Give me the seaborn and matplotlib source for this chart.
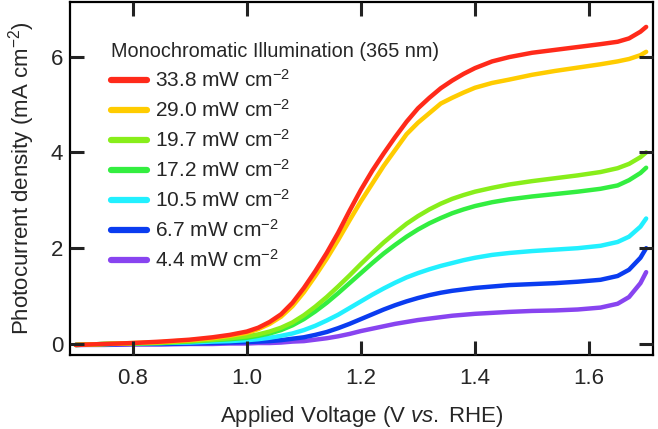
import numpy as np
import pandas as pd
import matplotlib
matplotlib.use("Agg")
import matplotlib.pyplot as plt
from matplotlib.lines import Line2D
import seaborn as sns

voltage = [0.70, 0.75, 0.80, 0.85, 0.90, 0.94, 0.97, 1.00,
           1.02, 1.04, 1.06, 1.08, 1.10, 1.12, 1.14, 1.16, 1.18, 1.20,
           1.22, 1.24, 1.26, 1.28, 1.30, 1.32, 1.34, 1.36, 1.38, 1.40,
           1.43, 1.46, 1.50, 1.54, 1.58, 1.62, 1.65, 1.67, 1.69, 1.70]

j_338 = [-0.02, 0.00, 0.02, 0.05, 0.09, 0.14, 0.19, 0.26,
         0.34, 0.46, 0.62, 0.86, 1.17, 1.52, 1.90, 2.32, 2.78, 3.22,
         3.62, 3.98, 4.32, 4.64, 4.92, 5.14, 5.34, 5.50, 5.64, 5.76,
         5.90, 5.99, 6.08, 6.14, 6.20, 6.26, 6.31, 6.38, 6.52, 6.62]
j_290 = [-0.02, 0.00, 0.02, 0.04, 0.08, 0.12, 0.17, 0.23,
         0.31, 0.42, 0.57, 0.79, 1.08, 1.42, 1.78, 2.17, 2.58, 2.98,
         3.35, 3.72, 4.05, 4.38, 4.62, 4.82, 5.02, 5.14, 5.25, 5.35,
         5.45, 5.52, 5.62, 5.70, 5.77, 5.84, 5.90, 5.95, 6.03, 6.10]
j_197 = [-0.02, 0.00, 0.01, 0.03, 0.06, 0.09, 0.12, 0.16,
         0.20, 0.26, 0.34, 0.45, 0.60, 0.78, 0.98, 1.20, 1.43, 1.67,
         1.90, 2.12, 2.32, 2.51, 2.67, 2.81, 2.93, 3.03, 3.11, 3.18,
         3.26, 3.33, 3.40, 3.46, 3.52, 3.59, 3.67, 3.76, 3.90, 4.00]
j_172 = [-0.02, 0.00, 0.01, 0.02, 0.05, 0.08, 0.10, 0.13,
         0.17, 0.22, 0.29, 0.39, 0.52, 0.68, 0.86, 1.06, 1.27, 1.48,
         1.69, 1.89, 2.07, 2.24, 2.39, 2.52, 2.63, 2.73, 2.81, 2.88,
         2.96, 3.02, 3.08, 3.13, 3.18, 3.24, 3.31, 3.42, 3.57, 3.68]
j_105 = [-0.02, 0.00, 0.01, 0.02, 0.03, 0.05, 0.06, 0.08,
         0.10, 0.13, 0.17, 0.22, 0.29, 0.38, 0.49, 0.61, 0.75, 0.89,
         1.03, 1.16, 1.28, 1.39, 1.48, 1.56, 1.63, 1.69, 1.75, 1.80,
         1.86, 1.90, 1.94, 1.97, 2.00, 2.05, 2.13, 2.24, 2.45, 2.62]
j_67 = [-0.02, -0.01, 0.00, 0.00, 0.01, 0.02, 0.03, 0.04,
        0.05, 0.06, 0.08, 0.11, 0.14, 0.19, 0.25, 0.33, 0.42, 0.52,
        0.62, 0.72, 0.81, 0.89, 0.96, 1.02, 1.07, 1.11, 1.14, 1.17,
        1.20, 1.23, 1.25, 1.27, 1.30, 1.34, 1.42, 1.55, 1.80, 2.00]
j_44 = [-0.02, -0.02, -0.01, -0.01, 0.00, 0.00, 0.01, 0.01,
        0.02, 0.02, 0.03, 0.05, 0.06, 0.09, 0.12, 0.16, 0.21, 0.27,
        0.32, 0.37, 0.42, 0.46, 0.50, 0.53, 0.56, 0.59, 0.61, 0.63,
        0.65, 0.67, 0.69, 0.70, 0.72, 0.76, 0.84, 0.98, 1.27, 1.50]

labels = ["33.8 mW cm$^{-2}$", "29.0 mW cm$^{-2}$", "19.7 mW cm$^{-2}$", "17.2 mW cm$^{-2}$",
          "10.5 mW cm$^{-2}$", "6.7 mW cm$^{-2}$", "4.4 mW cm$^{-2}$"]
series = [j_338, j_290, j_197, j_172, j_105, j_67, j_44]
colors = ["#FF2A1A", "#FFCC00", "#88EE1A", "#33EE40", "#22F0FF", "#0A3CF0", "#8844F0"]

x_ticks = [0.8, 1.0, 1.2, 1.4, 1.6]
y_ticks = [0, 2, 4, 6]

for s in series:
    assert len(s) == len(voltage)

rows = []
for lab, vals in zip(labels, series):
    for v, j in zip(voltage, vals):
        rows.append({"V": v, "J": j, "series": lab})
df = pd.DataFrame(rows)

sns.set_style("ticks")
plt.rcParams["font.family"] = ["Liberation Sans", "DejaVu Sans"]
plt.rcParams["mathtext.fontset"] = "custom"
plt.rcParams["mathtext.rm"] = "Liberation Sans"
plt.rcParams["mathtext.it"] = "Liberation Sans:italic"
plt.rcParams["axes.axisbelow"] = False

fig = plt.figure(figsize=(6.58, 4.29), dpi=100)
ax = fig.add_axes([70 / 658, 74 / 429, 583 / 658, 353 / 429])

draw_order = labels[::-1]
palette = dict(zip(labels, colors))
sns.lineplot(data=df, x="V", y="J", hue="series", hue_order=draw_order, palette=palette,
             linewidth=3.2, ax=ax, legend=False, sort=True)
for ln in ax.get_lines():
    ln.set_solid_capstyle("round")
    ln.set_solid_joinstyle("round")

ax.set_xlim(0.69, 1.712)
ax.set_ylim(-0.23, 7.14)
ax.set_xticks(x_ticks)
ax.set_xticklabels([f"{t:.1f}" for t in x_ticks])
ax.set_yticks(y_ticks)
ax.set_yticklabels([str(t) for t in y_ticks])
ax.minorticks_off()
for sp in ax.spines.values():
    sp.set_linewidth(1.6)
    sp.set_color("black")

ax.set_xlabel("Applied Voltage (V $\\mathit{vs.}$ RHE)", fontsize=16, labelpad=11)
ax.set_ylabel("Photocurrent density (mA cm$^{-2}$)", fontsize=16, labelpad=10)

handles = [Line2D([0], [0], color=c, lw=4.5) for c in colors]
leg = ax.legend(handles, labels, title="Monochromatic Illumination (365 nm)",
                loc="upper left", bbox_to_anchor=(0.0686, 0.89), frameon=False,
                fontsize=15, title_fontsize=14.3, handlelength=1.75, handletextpad=0.35,
                labelspacing=0.39, borderaxespad=0.0, borderpad=0.05)
leg._legend_box.align = "left"

ax.tick_params(axis="x", which="major", direction="in", length=10, width=2.2,
               top=True, bottom=True, labeltop=False, color="#222222",
               labelsize=16, pad=9)
ax.tick_params(axis="y", which="major", direction="in", length=10, width=2.2,
               left=True, right=True, labelright=False, color="#222222",
               labelsize=16, pad=5)

fig.savefig("out.png", dpi=100)
